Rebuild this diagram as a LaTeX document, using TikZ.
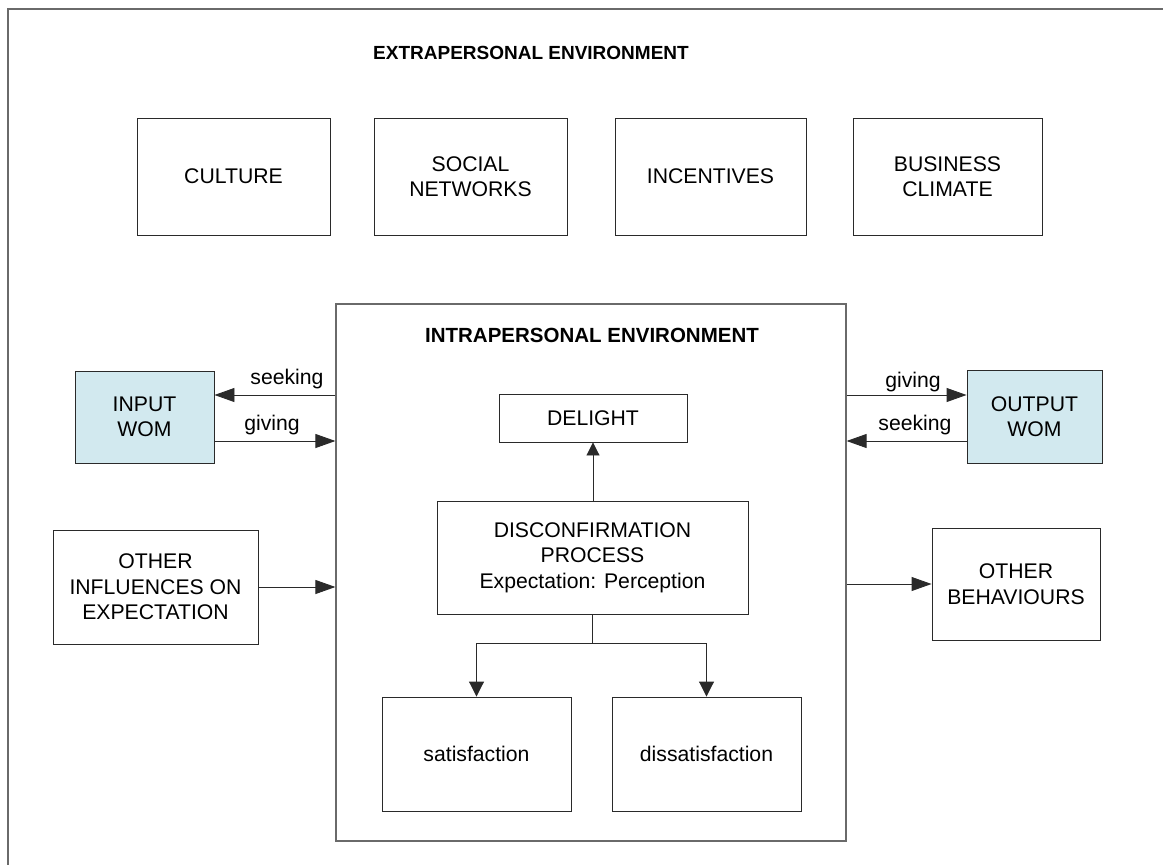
\documentclass[tikz,border=0pt]{standalone}
\usepackage{fontspec}
\setmainfont{Liberation Sans}
\usetikzlibrary{arrows.meta}
\definecolor{wom}{HTML}{D2E9EF}
\definecolor{edge}{HTML}{2A2A2A}
\definecolor{frame}{HTML}{6A6A6A}
\tikzset{
  box/.style={draw=edge, line width=0.9pt, rectangle, inner sep=0pt, align=center,
    font=\fontsize{21.2}{25.5}\selectfont},
  wombox/.style={box, fill=wom},
  conn/.style={draw=edge, line width=0.9pt, -{Triangle[length=20pt,width=14pt]}},
  downconn/.style={draw=edge, line width=0.9pt, -{Triangle[length=15pt,width=15pt]}},
  smallconn/.style={draw=edge, line width=0.9pt, -{Triangle[length=13pt,width=13pt]}},
  lbl/.style={font=\fontsize{21.2}{25.5}\selectfont, inner sep=0pt},
  ttl/.style={font=\bfseries\fontsize{19}{23}\selectfont, inner sep=0pt},
}
\begin{document}
\begin{tikzpicture}[x=1pt,y=-1pt]
\useasboundingbox (0,0) rectangle (1163,865);
% outer frame (only top and left edges visible)
\draw[frame, line width=1.2pt] (8,870) -- (8,9) -- (1170,9);
\node[ttl] (extitle) at (531,53) {EXTRAPERSONAL ENVIRONMENT};
% top boxes
\node[box, minimum width=193pt, minimum height=117pt] (culture) at (233.5,176.5) {CULTURE};
\node[box, minimum width=193pt, minimum height=117pt] (social) at (470.5,176.5) {SOCIAL\\NETWORKS};
\node[box, minimum width=191pt, minimum height=117pt] (incent) at (710.5,176.5) {INCENTIVES};
\node[box, minimum width=189pt, minimum height=117pt] (business) at (947.5,176.5) {BUSINESS\\CLIMATE};
% intrapersonal box
\node[draw=frame, line width=1.2pt, rectangle, inner sep=0pt, minimum width=510pt, minimum height=537pt] (intra) at (591,572.5) {};
\node[ttl, font=\bfseries\fontsize{20.5}{25}\selectfont] (intitle) at (592,335) {INTRAPERSONAL ENVIRONMENT};
% WOM boxes
\node[wombox, minimum width=139pt, minimum height=92pt] (input) at (144.5,417) {INPUT\\WOM};
\node[wombox, minimum width=135pt, minimum height=93pt] (output) at (1034.5,416.5) {OUTPUT\\WOM};
% inner boxes
\node[box, minimum width=188pt, minimum height=48pt] (delight) at (593,418) {DELIGHT};
\node[box, minimum width=311pt, minimum height=113pt] (disconf) at (592.5,557.5) {DISCONFIRMATION\\PROCESS\\Expectation: Perception};
\node[box, minimum width=189pt, minimum height=114pt] (sat) at (476.5,754) {satisfaction};
\node[box, minimum width=189pt, minimum height=114pt] (dissat) at (706.5,754) {dissatisfaction};
% side boxes
\node[box, minimum width=205pt, minimum height=114pt] (otherinf) at (155.5,587) {OTHER\\INFLUENCES ON\\EXPECTATION};
\node[box, minimum width=168pt, minimum height=112pt] (otherbeh) at (1016,584) {OTHER\\BEHAVIOURS};
% connectors left
\draw[conn] (intra.west |- 0,395) -- (input.east |- 0,395);
\draw[conn] (input.east |- 0,441) -- (intra.west |- 0,441);
\node[lbl] (seekL) at (287,379) {seeking};
\node[lbl] (giveL) at (272,425) {giving};
\draw[conn] (otherinf.east) -- (intra.west |- otherinf.east);
% connectors right
\draw[conn] (intra.east |- 0,395) -- (output.west |- 0,395);
\draw[conn] (output.west |- 0,441) -- (intra.east |- 0,441);
\node[lbl] (giveR) at (913,382) {giving};
\node[lbl] (seekR) at (915,425) {seeking};
\draw[conn] (intra.east |- otherbeh.west) -- (otherbeh.west);
% inner connectors
\draw[smallconn] (disconf.north -| delight.south) -- (delight.south);
\coordinate (split) at (disconf.south |- 0,643);
\draw[draw=edge, line width=0.9pt] (disconf.south) -- (split);
\draw[downconn] (split) -| (sat.north);
\draw[downconn] (split) -| (dissat.north);
\end{tikzpicture}
\end{document}
